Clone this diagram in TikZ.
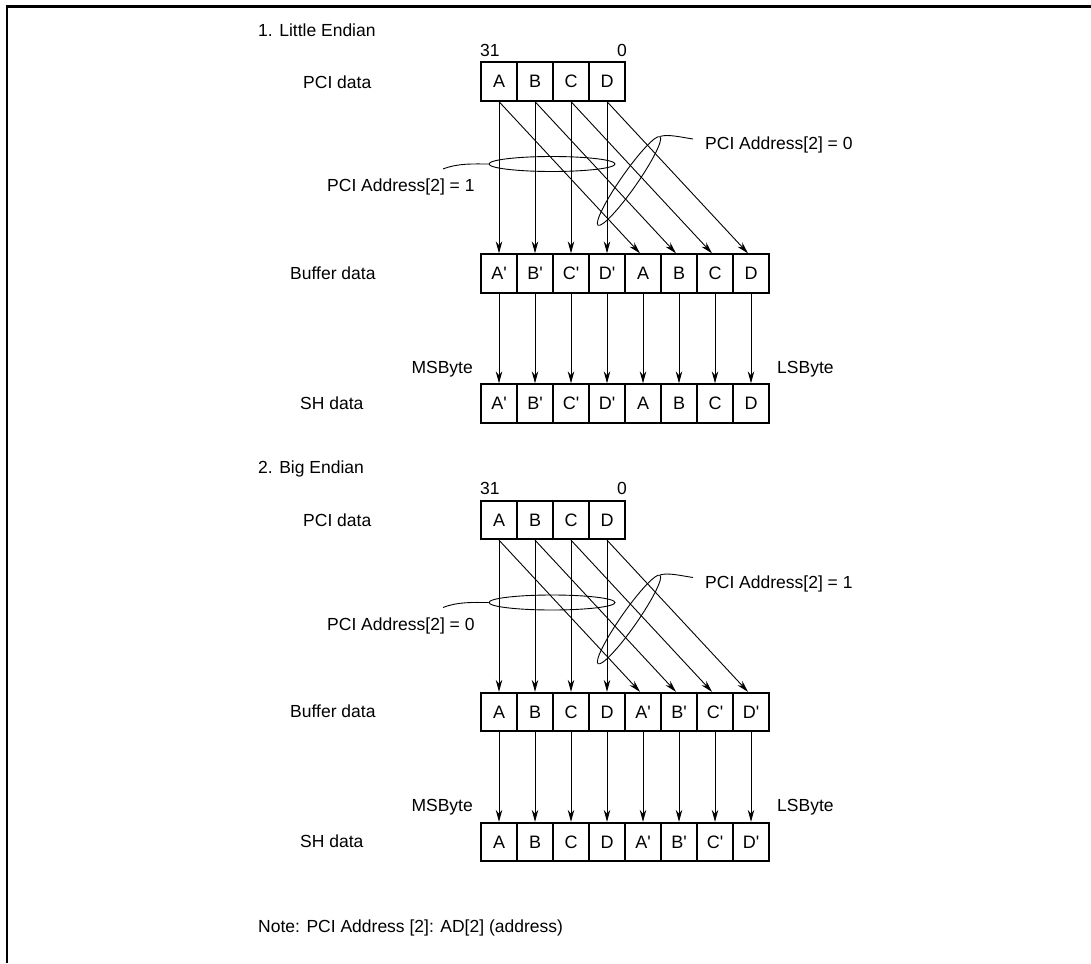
\documentclass[tikz,border=0pt]{standalone}
\usepackage{fontspec}
\setmainfont{Liberation Sans}
\usetikzlibrary{arrows.meta,shapes.geometric}
\newcommand\pq{\textquotesingle}
\begin{document}
\begin{tikzpicture}[x=1pt,y=-1pt,
  cell/.style={draw, line width=1.8pt, minimum width=36pt, minimum height=38.5pt, inner sep=0pt, font=\fontsize{18}{21}\selectfont},
  lbl/.style={font=\fontsize{17.5}{20}\selectfont, inner sep=0pt, anchor=west},
  rlbl/.style={font=\fontsize{17.5}{20}\selectfont, inner sep=0pt, anchor=east},
  arr/.style={line width=0.9pt, -{Stealth[length=12pt,width=6.5pt]}},
  ring/.style={draw, ellipse, line width=0.9pt, inner sep=0pt},
  lead/.style={line width=0.9pt}]
\useasboundingbox (0,0) rectangle (1091,963);
\draw[line width=2.2pt] (7,963) -- (7,6.5) -- (1091,6.5);

\foreach \s/\dy/\lt/\rt/\title in {1/0/1/0/{1. Little Endian}, 2/438.5/0/1/{2. Big Endian}} {
  \ifnum\s=1
    \def\blist{A\pq,B\pq,C\pq,D\pq,A,B,C,D}
  \else
    \def\blist{A,B,C,D,A\pq,B\pq,C\pq,D\pq}
  \fi
  \begin{scope}[yshift=-\dy pt]
    \node[lbl] (title\s) at (258,30) {\title};
    \node[lbl] (msb\s) at (480,50) {31};
    \node[font=\fontsize{17.5}{20}\selectfont, inner sep=0pt] (lsb\s) at (622,50) {0};
    \node[lbl] (pcil\s) at (303,82) {PCI data};
    \node[lbl] (bufl\s) at (290,273) {Buffer data};
    \node[lbl] (shl\s) at (300,403) {SH data};
    \foreach \t [count=\i] in {A,B,C,D}
      \node[cell] (p\s-\i) at ({499+36*(\i-1)},81.5) {\t};
    \foreach \t [count=\i] in \blist {
      \node[cell] (b\s-\i) at ({499+36*(\i-1)},273.5) {\t};
      \node[cell] (h\s-\i) at ({499+36*(\i-1)},403.5) {\t};
    }
    \foreach \i [evaluate=\i as \j using int(\i+4)] in {1,2,3,4} {
      \draw[arr] (p\s-\i.south) -- (b\s-\i.north);
      \draw[arr] (p\s-\i.south) -- ([xshift=-3pt]b\s-\j.north);
    }
    \foreach \i in {1,...,8}
      \draw[arr] (b\s-\i.south) -- (h\s-\i.north);
    \node[rlbl] (ms\s) at (473,369) {MSByte};
    \node[lbl] (ls\s) at (777,369) {LSByte};
    % ellipses
    \node[ring, minimum width=126pt, minimum height=15pt] (ea\s) at (552,164) {};
    \node[ring, minimum width=108pt, minimum height=16pt, rotate=55] (eb\s) at (629,181) {};
    \node[lbl] (la\s) at (327,187) {PCI Address[2] = \lt};
    \node[lbl] (lb\s) at (705,145) {PCI Address[2] = \rt};
    \coordinate (ca\s) at (443,169);
    \coordinate (cb\s) at (693,139);
    \draw[lead] (ca\s) .. controls (458,163) and (474,164) .. (ea\s.west);
    \draw[lead] (eb\s.east) .. controls (668,134) and (680,137) .. (cb\s);
  \end{scope}
}
\node[lbl] (note) at (258,928) {Note: PCI Address [2]: AD[2] (address)};
\end{tikzpicture}
\end{document}
